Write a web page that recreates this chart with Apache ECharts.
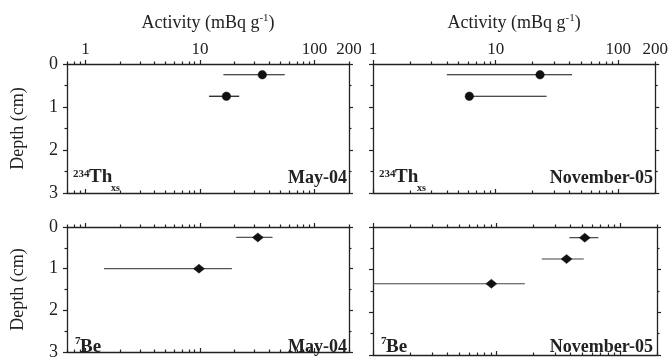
<!DOCTYPE html>
<html><head><meta charset="utf-8">
<script src="https://cdn.jsdelivr.net/npm/echarts@6/dist/echarts.min.js"></script>
<style>html,body{margin:0;padding:0;background:#fff}#c{width:671px;height:361px}</style>
</head><body><div id="c"></div>
<script>
// ---- data (activity in mBq/g, depth in cm) ----
const thMayDepth = [0.25, 0.75];
const thMayValue = [35, 17];
const thMayLow   = [16, 12];
const thMayHigh  = [55, 22];

const thNovDepth = [0.25, 0.75];
const thNovValue = [23, 6.1];
const thNovLow   = [4.0, 6.1];
const thNovHigh  = [42, 26];

const beMayDepth = [0.25, 1.0];
const beMayValue = [32, 9.8];
const beMayLow   = [20.7, 1.45];
const beMayHigh  = [43, 19];

const beNovDepth = [0.25, 0.75, 1.33];
const beNovValue = [52, 37, 9.1];
const beNovLow   = [39, 23.3, 0.5];
const beNovHigh  = [67, 51, 17];

const majorTicks = [1, 10, 100];
const minorTicks = [0.7, 0.8, 0.9, 2, 3, 4, 5, 6, 7, 8, 9, 20, 30, 40, 50, 60, 70, 80, 90, 200];
const tickLabels = [1, 10, 100, 200];
const depthTicks = [0, 1, 2, 3];
const panelNames = ['May-04', 'November-05', 'May-04', 'November-05'];

const FONT = '"Liberation Serif", "Times New Roman", serif';
const LC = '#222';
const L = Math.log10;

const chart = echarts.init(document.getElementById('c'), null, {renderer: 'canvas'});

const grids = [
  {left: 67,  top: 64,  width: 282, height: 129},
  {left: 373, top: 64,  width: 284, height: 129},
  {left: 67,  top: 227, width: 282, height: 128},
  {left: 373, top: 227, width: 284, height: 128}
];
const xMins = [0.69, 1, 0.69, 1];
const XMAX = 200;

const xAxis = [], yAxis = [], series = [];
grids.forEach((g, i) => {
  const mn = L(xMins[i]), mx = L(XMAX);
  const inR = v => L(v) >= mn - 1e-9 && L(v) <= mx + 1e-9;
  const maj = majorTicks.filter(inR).map(L);
  const mnr = minorTicks.filter(inR).map(L);
  const topRow = i < 2;
  const base = {type: 'value', gridIndex: i, min: mn, max: mx, splitLine: {show: false}};
  const line = {show: true, onZero: false, lineStyle: {color: LC, width: 1.3}};
  const noLine = {show: false, onZero: false};
  xAxis.push(Object.assign({}, base, {
    position: 'top', axisLine: line,
    axisTick: {show: true, inside: false, length: 4, customValues: maj, lineStyle: {color: LC, width: 1.2}},
    axisLabel: {show: topRow, customValues: tickLabels.filter(inR).map(L),
      formatter: v => String(Math.round(Math.pow(10, v))),
      margin: 6, fontSize: 17, fontFamily: FONT, color: LC},
    name: topRow ? 'Activity (mBq g{s|-1})' : '',
    nameLocation: 'middle', nameGap: 31,
    nameTextStyle: {fontSize: 18, fontFamily: FONT, color: LC, lineHeight: 20,
      rich: {s: {fontSize: 11, fontFamily: FONT, color: LC, verticalAlign: 'top', lineHeight: 12}}}
  }));
  xAxis.push(Object.assign({}, base, {
    position: 'top', axisLine: noLine,
    axisTick: {show: true, inside: false, length: 2.5, customValues: mnr, lineStyle: {color: LC, width: 1.2}},
    axisLabel: {show: false}
  }));
  xAxis.push(Object.assign({}, base, {
    position: 'bottom', axisLine: line,
    axisTick: {show: true, inside: true, length: 4, customValues: maj, lineStyle: {color: LC, width: 1.2}},
    axisLabel: {show: false}
  }));
  xAxis.push(Object.assign({}, base, {
    position: 'bottom', axisLine: noLine,
    axisTick: {show: true, inside: true, length: 2.5, customValues: mnr, lineStyle: {color: LC, width: 1.2}},
    axisLabel: {show: false}
  }));
  const leftCol = i % 2 === 0;
  const ybase = {type: 'value', gridIndex: i, min: depthTicks[0], max: depthTicks[depthTicks.length - 1],
    interval: 1, inverse: true, splitLine: {show: false},
    axisLine: {show: true, onZero: false, lineStyle: {color: LC, width: 1.3}},
    axisTick: {show: true, inside: false, length: 4, lineStyle: {color: LC, width: 1.2}},
    minorTick: {show: true, splitNumber: 2, length: 2.5, lineStyle: {color: LC, width: 1.2}}};
  yAxis.push(Object.assign({}, ybase, {
    position: 'left',
    axisLabel: {show: leftCol, margin: 9, fontSize: 18, fontFamily: FONT, color: LC},
    name: leftCol ? 'Depth (cm)' : '', nameLocation: 'middle', nameGap: 40, nameRotate: 90,
    nameTextStyle: {fontSize: 18, fontFamily: FONT, color: LC}
  }));
  yAxis.push(Object.assign({}, ybase, {position: 'right', axisLabel: {show: false}}));
});

const panelsData = [
  {d: thMayDepth, v: thMayValue, lo: thMayLow, hi: thMayHigh, sym: 'circle', size: 8.5, bar: '#111'},
  {d: thNovDepth, v: thNovValue, lo: thNovLow, hi: thNovHigh, sym: 'circle', size: 8.5, bar: '#111'},
  {d: beMayDepth, v: beMayValue, lo: beMayLow, hi: beMayHigh, sym: 'diamond', size: [11, 9], bar: '#555'},
  {d: beNovDepth, v: beNovValue, lo: beNovLow, hi: beNovHigh, sym: 'diamond', size: [11, 9], bar: '#444'}
];
panelsData.forEach((p, i) => {
  series.push({
    type: 'custom', xAxisIndex: 4 * i, yAxisIndex: 2 * i, clip: true,
    encode: {x: [0, 2], y: 1},
    data: p.d.map((dd, k) => [L(p.lo[k]), dd, L(p.hi[k])]),
    renderItem: (params, api) => {
      const y = api.value(1);
      const a = api.coord([api.value(0), y]);
      const b = api.coord([api.value(2), y]);
      return {type: 'line', shape: {x1: a[0], y1: a[1], x2: b[0], y2: b[1]},
        style: {stroke: p.bar, lineWidth: 1.2}};
    },
    silent: true, z: 2
  });
  series.push({
    type: 'scatter', xAxisIndex: 4 * i, yAxisIndex: 2 * i,
    symbol: p.sym, symbolSize: p.size,
    itemStyle: {color: '#111', borderColor: '#111', borderWidth: 0.5, opacity: 1},
    data: p.d.map((dd, k) => [L(p.v[k]), dd]), z: 3, silent: true
  });
});

const graphic = [];
function txt(x, y, text, font, align) {
  graphic.push({type: 'text', x: x, y: y, silent: true,
    style: {text: text, font: font, fill: LC, align: align || 'left', verticalAlign: 'middle'}});
}
const B = s => 'bold ' + s + 'px ' + FONT;
[[67, 177], [373, 177]].forEach(([gx, cy]) => {
  txt(gx + 6, cy - 3, '234', B(11));
  txt(gx + 22, cy, 'Th', B(19));
  txt(gx + 44, cy + 11, 'xs', B(10));
});
[[67, 347], [373, 347]].forEach(([gx, cy]) => {
  txt(gx + 8, cy - 6, '7', B(11));
  txt(gx + 13, cy, 'Be', B(19));
});
txt(347, 178, panelNames[0], B(18), 'right');
txt(653, 178, panelNames[1], B(18), 'right');
txt(347, 347, panelNames[2], B(18), 'right');
txt(653, 347, panelNames[3], B(18), 'right');

chart.setOption({
  animation: false,
  backgroundColor: '#fff',
  grid: grids.map(g => Object.assign({containLabel: false}, g)),
  xAxis: xAxis, yAxis: yAxis, series: series, graphic: graphic
});
</script></body></html>
